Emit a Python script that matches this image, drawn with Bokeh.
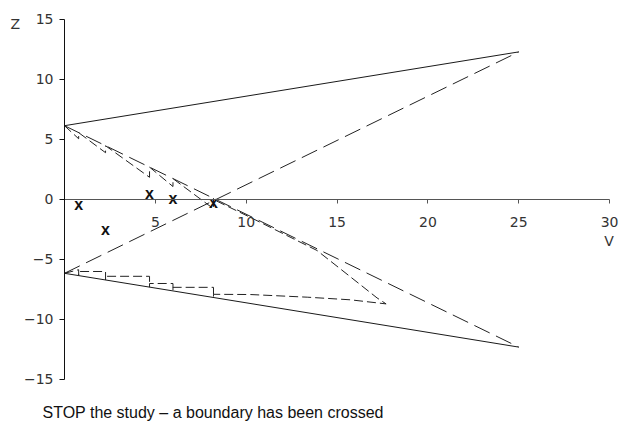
from bokeh.plotting import figure
from bokeh.models import FixedTicker, Label
from bokeh.core.properties import value
from bokeh.embed import file_html
from bokeh.resources import INLINE

# Interim analyses: information (V) at each look and the observed score statistic (Z)
look_v = [0.78, 2.26, 4.68, 5.97, 8.2]
look_z = [-0.5, -2.55, 0.42, -0.03, -0.36]

# Straight boundaries of the double triangular design
bound_v = [0, 25]
upper_outer_z = [6.15, 12.3]
lower_outer_z = [-6.15, -12.3]
falling_inner_z = [6.15, -12.3]
rising_inner_z = [-6.15, 12.3]

# Boundary values at each look and the Christmas-tree corrected values
upper_start = 6.15
upper_bound_at_looks = [5.57, 4.48, 2.70, 1.74, 0.10]
upper_corrected = [5.06, 3.9, 1.85, 1.08, -0.77]
lower_start = -6.15
lower_bound_at_looks = [-6.34, -6.7, -7.3, -7.62, -8.17]
lower_corrected = [-5.85, -6.0, -6.4, -7.0, -7.32]

# Projected corrected boundaries beyond the last look
upper_proj_v = [8.2, 10.24, 13.9, 15.74, 17.2, 17.7]
upper_proj_z = [0.0, -1.5, -4.25, -6.45, -8.2, -8.7]
lower_proj_v = [8.2, 10.24, 13.36, 15.74, 17.7]
lower_proj_z = [-7.9, -7.92, -8.14, -8.36, -8.7]

# Axis ticks and labels
x_ticks = [5, 10, 15, 20, 25, 30]
y_ticks = [-15, -10, -5, 0, 5, 10, 15]
y_tick_labels = ["\u221215", "\u221210", "\u22125", "0", "5", "10", "15"]

caption = "STOP the study \u2013 a boundary has been crossed"


def sloped_steps(start, bounds, corrected):
    # each piece runs from the boundary at the previous look to the corrected value
    vs, zs = [0], [start]
    for v, b, c in zip(look_v, bounds, corrected):
        vs += [v, v]
        zs += [c, b]
    return vs, zs


def flat_steps(start, bounds, corrected):
    # first piece rises to the first corrected value, later pieces are held flat
    vs, zs = [0, look_v[0], look_v[0]], [start, corrected[0], bounds[0]]
    for i in range(1, len(look_v)):
        vs += [look_v[i - 1], look_v[i], look_v[i]]
        zs += [corrected[i], corrected[i], bounds[i]]
    return vs, zs


p = figure(width=622, height=421, output_backend="svg", toolbar_location=None,
           x_range=(-3.522, 30.71), y_range=(-18.5, 16.583),
           min_border=0, min_border_left=0, min_border_right=0,
           min_border_top=0, min_border_bottom=0)
p.outline_line_color = None
p.xgrid.visible = False
p.ygrid.visible = False
p.background_fill_color = "white"
p.border_fill_color = "white"

tick_font = "DejaVu Sans"

# x axis through Z = 0
xa = p.xaxis[0]
xa.fixed_location = 0
xa.ticker = FixedTicker(ticks=x_ticks)
xa.bounds = (0, 30)
xa.axis_line_color = "#555555"
xa.major_tick_line_color = "#555555"
xa.major_tick_out = 4
xa.major_tick_in = 0
xa.minor_tick_line_color = None
xa.major_label_text_font = tick_font
xa.major_label_text_font_size = "14px"
xa.major_label_text_color = "#333333"
xa.major_label_standoff = 14

# y axis through V = 0
ya = p.yaxis[0]
ya.fixed_location = 0
ya.ticker = FixedTicker(ticks=y_ticks)
ya.major_label_overrides = {t: s for t, s in zip(y_ticks, y_tick_labels)}
ya.bounds = (-15, 15)
ya.axis_line_color = "#111111"
ya.major_tick_line_color = "#111111"
ya.major_tick_out = 5
ya.major_tick_in = 0
ya.minor_tick_line_color = None
ya.major_label_text_font = tick_font
ya.major_label_text_font_size = "14px"
ya.major_label_text_color = "#333333"
ya.major_label_text_baseline = "top"
ya.major_label_standoff = 6

# Straight boundaries
p.line(bound_v, upper_outer_z, line_color="#1a1a1a", line_width=1)
p.line(bound_v, lower_outer_z, line_color="#1a1a1a", line_width=1)
p.line(bound_v, falling_inner_z, line_color="#222222", line_width=1, line_dash="17 7")
p.line(bound_v, rising_inner_z, line_color="#222222", line_width=1, line_dash="17 7")

# Corrected (stepped) boundaries
uv, uz = sloped_steps(upper_start, upper_bound_at_looks, upper_corrected)
lv, lz = flat_steps(lower_start, lower_bound_at_looks, lower_corrected)
p.line(uv + upper_proj_v, uz + upper_proj_z, line_color="#222222", line_width=1, line_dash="9 4")
p.line(lv + lower_proj_v, lz + lower_proj_z, line_color="#222222", line_width=1, line_dash="9 4")

# Observed path
p.text(x=look_v, y=look_z, text=["x"] * len(look_v),
       text_font=value("Liberation Sans"), text_font_size="16px", text_font_style="bold",
       text_color="#111111", text_align="center", text_baseline="middle",
       y_offset=-1)

# Axis titles
p.add_layout(Label(x=-2.71, y=14.61, text="Z", text_font=tick_font, text_font_size="14px",
                   text_color="#333333", text_align="center", text_baseline="middle"))
p.add_layout(Label(x=29.97, y=-3.42, text="V", text_font=tick_font, text_font_size="14px",
                   text_color="#333333", text_align="center", text_baseline="middle"))

# Decision message
p.add_layout(Label(x=42, y=9.5, x_units="screen", y_units="screen", text=caption,
                   text_font="Liberation Sans", text_font_size="16px",
                   text_color="#111111", text_align="left", text_baseline="alphabetic"))

open("out.html", "w").write(file_html(p, INLINE))
